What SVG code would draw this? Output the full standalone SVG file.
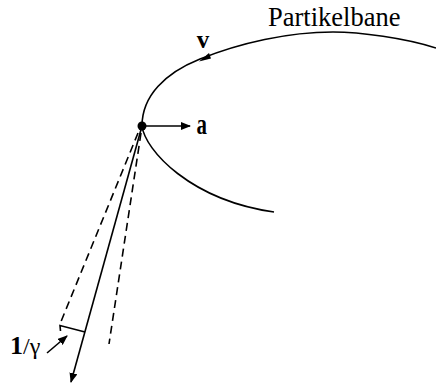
<svg xmlns="http://www.w3.org/2000/svg" width="436" height="387" viewBox="0 0 436 387">
  <style>
    .ln { fill: none; stroke: #000; stroke-width: 1.6; }
    .dash { fill: none; stroke: #000; stroke-width: 1.6; stroke-dasharray: 8 5; }
    .t { font-family: "Liberation Serif", "Times New Roman", serif; fill: #000; }
  </style>
  <defs>
    <marker id="ah" viewBox="0 0 10 8" refX="9" refY="4" markerWidth="10" markerHeight="8" markerUnits="userSpaceOnUse" orient="auto">
      <path d="M0 0 L10 4 L0 8 Z" fill="#000"/>
    </marker>
  </defs>
  <rect width="436" height="387" fill="#fff"/>
  <g id="trajectory">
    <path class="ln" d="M436 48 C405 38 360 32 333 32 C288 32 240 43 200 59 C165 73 142 96 142 126 C145 150 190 200 274 212"/>
    <path d="M199 61.5 L209 53 L211 58.5 Z" fill="#000"/>
    <text class="t" x="268" y="26" font-size="26.5">Partikelbane</text>
    <text class="t" x="203" y="48" font-size="25" font-weight="bold" text-anchor="middle">v</text>
  </g>
  <g id="particle">
    <circle cx="142" cy="126" r="4.5" fill="#000"/>
  </g>
  <g id="connectors">
    <line class="ln" x1="142" y1="126" x2="190" y2="126" marker-end="url(#ah)"/>
    <line class="ln" x1="142" y1="126" x2="71" y2="382" marker-end="url(#ah)"/>
    <line class="dash" x1="138" y1="133" x2="60" y2="324"/>
    <line class="dash" x1="141" y1="133" x2="109" y2="344"/>
    <path class="ln" d="M60.5 331 L60 325.5 L85 332"/>
    <line class="ln" x1="47" y1="353" x2="67" y2="336" marker-end="url(#ah)"/>
  </g>
  <g id="labels">
    <text class="t" x="0" y="0" font-size="29" font-weight="bold" transform="translate(196.5 134) scale(0.72 1)">a</text>
    <text class="t" x="10" y="354" font-size="26"><tspan font-weight="bold">1</tspan><tspan font-size="24">/γ</tspan></text>
  </g>
</svg>
